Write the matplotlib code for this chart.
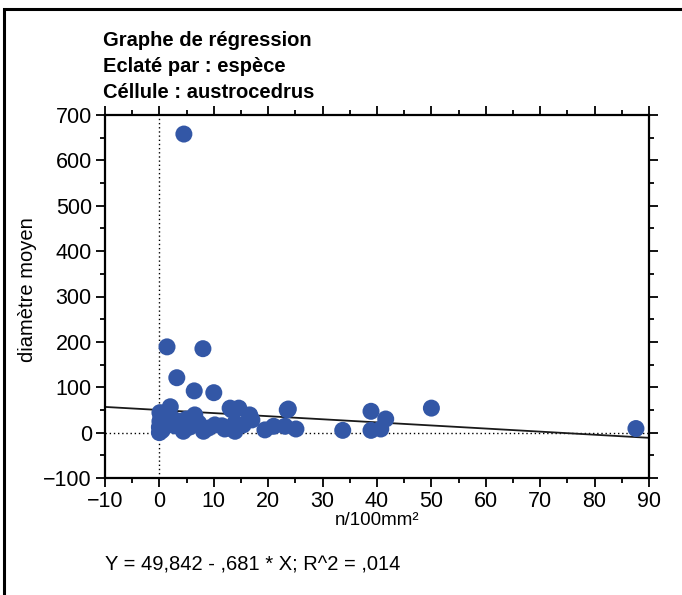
import matplotlib.pyplot as plt
from matplotlib.patches import Rectangle
from matplotlib.ticker import MultipleLocator

plt.rcParams['font.family'] = ['Liberation Sans', 'DejaVu Sans']

# data
x = [4.5, 1.4, 8.0, 3.2, 6.4, 10.0, 2.0, 13.0, 14.6, 16.6, 23.5, 23.7,
     0.1, 0.1, 0.0, 0.0, 0.3, 1.0, 1.5, 2.5, 3.8, 4.4, 5.0, 5.5, 6.5,
     7.2, 8.1, 9.0, 10.2, 11.5, 12.0, 13.3, 13.9, 13.9, 15.4, 16.6,
     19.4, 21.0, 23.1, 25.1, 33.7, 38.9, 38.9, 40.7, 41.6, 50.0, 87.6,
     0.5, 2.8, 5.8, 12.5, 17.0]
y = [658, 189, 185, 121, 92, 88, 57, 54, 54, 39, 50, 52,
     44, 25, 0, 12, 35, 20, 40, 30, 25, 3, 30, 12, 39,
     21, 3, 10, 17, 15, 8, 50, 21, 3, 17, 36,
     6, 14, 14, 8, 5, 47, 5, 8, 30, 54, 9,
     5, 15, 22, 10, 28]

intercept = 49.842
slope = -0.681

title_lines = ['Graphe de régression', 'Eclaté par : espèce', 'Céllule : austrocedrus']
equation = 'Y = 49,842 - ,681 * X; R^2 = ,014'

fig = plt.figure(figsize=(6.82, 5.95), dpi=100)
ax = fig.add_axes([105/682, 1 - 478/595, 544/682, 363/595])

ax.axvline(0, color='black', linestyle=(0, (1, 2)), lw=1, zorder=1)
ax.axhline(0, color='black', linestyle=(0, (1, 2)), lw=1, zorder=1)
ax.plot([-10, 90], [intercept + slope * -10, intercept + slope * 90], color='#1a1a1a', lw=1.3, zorder=2)
ax.scatter(x, y, s=150, color='#3357a6', edgecolors='none', zorder=3)

ax.set_xlim(-10, 90)
ax.set_ylim(-100, 700)
ax.xaxis.set_major_locator(MultipleLocator(10))
ax.xaxis.set_minor_locator(MultipleLocator(5))
ax.yaxis.set_major_locator(MultipleLocator(100))
ax.yaxis.set_minor_locator(MultipleLocator(50))
ax.tick_params(which='both', direction='out', top=True, right=True, width=1.3, labelsize=15.5)
ax.tick_params(which='major', length=6.5, pad=3)
ax.tick_params(which='minor', length=3.5)
for s in ax.spines.values():
    s.set_linewidth(1.6)

ax.set_xlabel('n/100mm²', fontsize=13.5, labelpad=0)
ax.set_ylabel('diamètre moyen', fontsize=14.5, labelpad=2)
ax.yaxis.set_label_coords(-0.125, 0.52)

for i, t in enumerate(title_lines):
    fig.text(103/682, 1 - (40 + 26*i)/595, t, fontsize=14.5, fontweight='bold', va='center', ha='left')
fig.text(105/682, 1 - 565/595, equation, fontsize=14.5, va='center', ha='left')

fig.add_artist(Rectangle((4/682, -0.1), 1.2, 1.1 - 9/595, transform=fig.transFigure,
                         fill=False, lw=2.2, edgecolor='black'))

fig.savefig('out.png', dpi=100)
